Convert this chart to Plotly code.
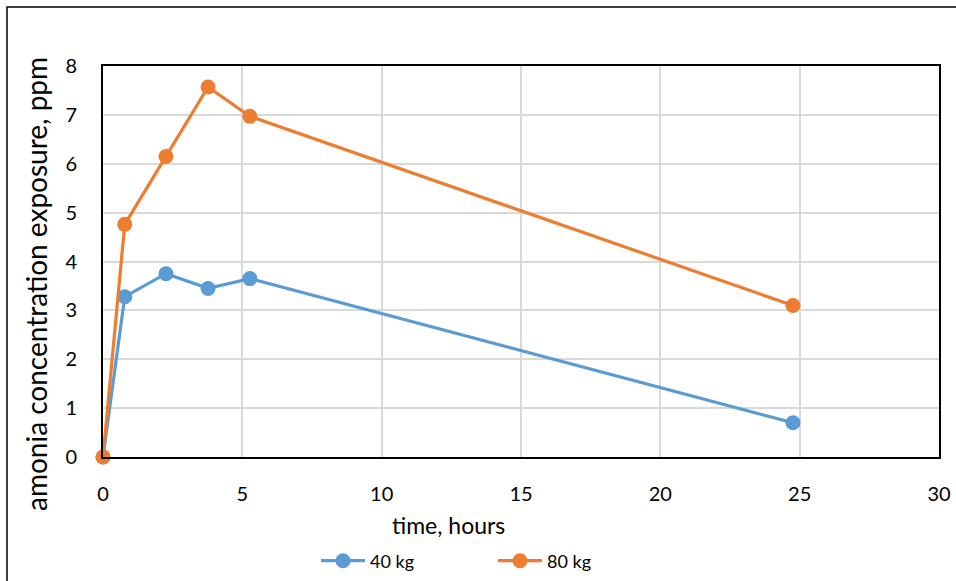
import plotly.graph_objects as go

time_40 = [0, 0.78, 2.26, 3.77, 5.27, 24.76]
conc_40 = [0, 3.28, 3.75, 3.45, 3.65, 0.70]
time_80 = [0, 0.78, 2.26, 3.77, 5.27, 24.76]
conc_80 = [0, 4.76, 6.15, 7.57, 6.97, 3.10]
series_names = ["40 kg", "80 kg"]
colors = ["#5B9BD5", "#ED7D31"]
x_title = "time, hours"
y_title = "amonia concentration exposure, ppm"

fig = go.Figure()
for t, c, name, col in [(time_40, conc_40, series_names[0], colors[0]),
                        (time_80, conc_80, series_names[1], colors[1])]:
    fig.add_trace(go.Scatter(x=t, y=c, name=name, mode="lines+markers",
                             line=dict(color=col, width=3.2),
                             marker=dict(color=col, size=15), cliponaxis=False))

W, H = 956, 581
l, t, r, b = 103, 66, 17, 124
pw, ph = W - l - r, H - t - b

def px_x(p):
    return (p - l) / pw

def px_y(p):
    return 1 - (p - t) / ph

fig.update_layout(
    width=W, height=H,
    margin=dict(l=l, r=r, t=t, b=b, autoexpand=False),
    paper_bgcolor="white", plot_bgcolor="white",
    font=dict(family="Lato, Open Sans, sans-serif", color="#000000", size=20),
    xaxis=dict(range=[0, 30], dtick=5, showgrid=True, gridcolor="#d9d9d9", gridwidth=1.5,
               showline=True, linecolor="black", linewidth=2, mirror=True,
               zeroline=False, ticks="", ticklabelstandoff=18, automargin=False),
    yaxis=dict(range=[0, 8], dtick=1, showgrid=True, gridcolor="#d9d9d9", gridwidth=1.5,
               showline=True, linecolor="black", linewidth=2, mirror=True,
               zeroline=False, ticks="", ticklabelstandoff=20, automargin=False),
    legend=dict(orientation="h", xref="container", yref="container",
                x=316 / W, xanchor="left", y=1 - 561 / H, itemwidth=44,
                yanchor="middle", font=dict(size=18), entrywidth=118, bgcolor="rgba(0,0,0,0)"),
    showlegend=True,
)

fig.add_annotation(text=x_title, xref="paper", yref="paper", x=px_x(448), y=px_y(525),
                   xanchor="center", yanchor="middle", showarrow=False, font=dict(size=23))
fig.add_annotation(text=y_title, xref="paper", yref="paper", x=px_x(36), y=px_y(284),
                   xanchor="center", yanchor="middle", showarrow=False, textangle=-90,
                   font=dict(size=28))

fig.add_shape(type="rect", xref="paper", yref="paper",
              x0=px_x(7), x1=px_x(W + 20), y0=px_y(H + 20), y1=px_y(7),
              line=dict(color="black", width=1.5), fillcolor="rgba(0,0,0,0)", layer="below")

fig.write_html("out.html", config={"displayModeBar": False},
               post_script="document.body.style.margin='0';document.body.style.overflow='hidden';")
